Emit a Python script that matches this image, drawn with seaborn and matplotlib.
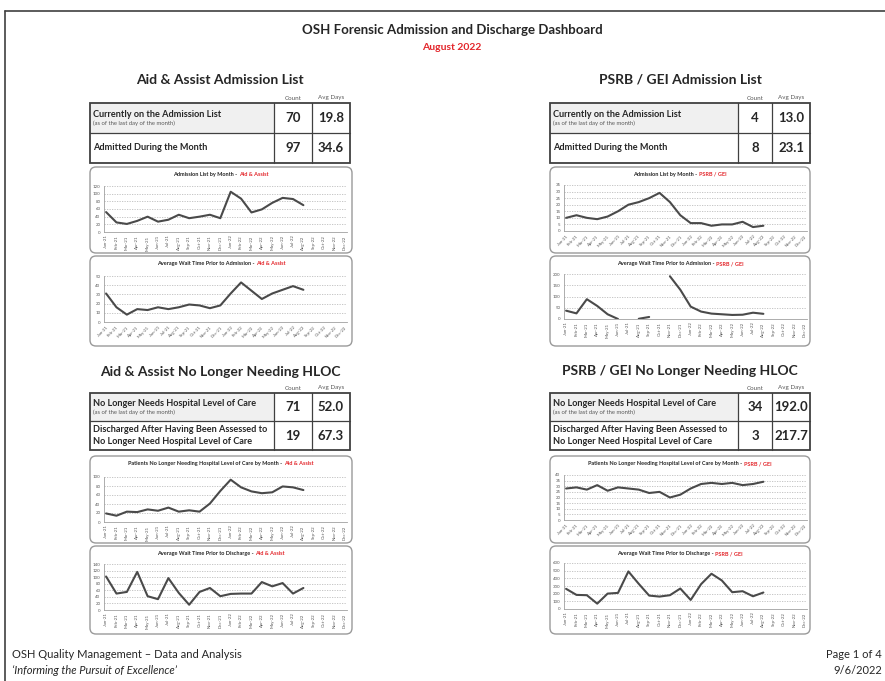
import numpy as np
import pandas as pd
import matplotlib
matplotlib.use("Agg")
import matplotlib.pyplot as plt
import seaborn as sns
from matplotlib.patches import FancyBboxPatch, Rectangle

sns.set_theme(style="white")
plt.rcParams['font.family'] = ['Lato', 'DejaVu Sans']

# ---------------- data ----------------
months = ["Jan-21", "Feb-21", "Mar-21", "Apr-21", "May-21", "Jun-21", "Jul-21", "Aug-21",
          "Sep-21", "Oct-21", "Nov-21", "Dec-21", "Jan-22", "Feb-22", "Mar-22", "Apr-22",
          "May-22", "Jun-22", "Jul-22", "Aug-22", "Sep-22", "Oct-22", "Nov-22", "Dec-22"]

aa_list = [52, 25, 21, 29, 40, 27, 32, 45, 36, 40, 45, 36, 105, 87, 51, 59, 76, 89, 86, 70]
aa_wait_adm = [31, 16, 8, 14, 13, 16, 14, 16, 19, 18, 15, 18, 31, 43, 34, 25, 31, 35, 39, 35]
psrb_list = [10, 12, 10, 9, 11, 15, 20, 22, 25, 29, 22, 12, 6, 6, 4, 5, 5, 7, 3, 4]
psrb_wait_adm = [37, 25, 88, 58, 21, 0, np.nan, 1, 9, np.nan, 190, 130, 55, 33, 24, 21, 18, 19, 28, 23]
aa_hloc = [19, 14, 23, 22, 28, 25, 32, 23, 26, 23, 41, 69, 94, 77, 68, 64, 66, 79, 77, 71]
aa_wait_dis = [102, 50, 55, 116, 42, 33, 97, 52, 16, 55, 67, 42, 49, 50, 50, 85, 72, 82, 50, 67]
psrb_hloc = [28, 29, 27, 31, 26, 29, 28, 27, 24, 25, 20, 22.5, 28, 32, 33, 32, 33, 31, 32, 34]
psrb_wait_dis = [263, 184, 180, 70, 201, 210, 490, 328, 175, 162, 180, 267, 118, 324, 460, 372, 219, 232, 166, 215]

aa_adm_table = [["Currently on the Admission List", "70", "19.8"],
                ["Admitted During the Month", "97", "34.6"]]
psrb_adm_table = [["Currently on the Admission List", "4", "13.0"],
                  ["Admitted During the Month", "8", "23.1"]]
aa_hloc_table = [["No Longer Needs Hospital Level of Care", "71", "52.0"],
                 ["Discharged After Having Been Assessed to\nNo Longer Need Hospital Level of Care", "19", "67.3"]]
psrb_hloc_table = [["No Longer Needs Hospital Level of Care", "34", "192.0"],
                   ["Discharged After Having Been Assessed to\nNo Longer Need Hospital Level of Care", "3", "217.7"]]

W, H = 885, 681
RED = "#e3262b"
DARK = "#262626"
fig = plt.figure(figsize=(W / 100, H / 100), dpi=100)
fig.patch.set_facecolor("white")

bg = fig.add_axes([0, 0, 1, 1])
bg.set_xlim(0, W)
bg.set_ylim(H, 0)
bg.axis("off")
bg.set_zorder(0)

# page border
bg.plot([5, W], [11, 11], color="#404040", lw=1.2)
bg.plot([5, 5], [11, H], color="#404040", lw=1.2)

# header
bg.text(452, 30, "OSH Forensic Admission and Discharge Dashboard", ha="center", va="center",
        fontsize=9.5, fontweight="bold", color=DARK)
bg.text(452, 47, "August 2022", ha="center", va="center", fontsize=7.5, fontweight="bold", color=RED)

# footer
bg.text(12, 655, "OSH Quality Management \u2013 Data and Analysis", ha="left", va="center", fontsize=8, color=DARK)
bg.text(12, 670, "\u2018Informing the Pursuit of Excellence\u2019", ha="left", va="center", fontsize=8,
        style="italic", color=DARK)
bg.text(882, 655, "Page 1 of 4", ha="right", va="center", fontsize=8, color=DARK)
bg.text(882, 670, "9/6/2022", ha="right", va="center", fontsize=8, color=DARK)

# section titles
for x, y, t in [(220, 80, "Aid & Assist Admission List"), (680, 80, "PSRB / GEI Admission List"),
                (220, 372, "Aid & Assist No Longer Needing HLOC"), (680, 371, "PSRB / GEI No Longer Needing HLOC")]:
    bg.text(x, y, t, ha="center", va="center", fontsize=10, fontweight="bold", color=DARK)


def draw_table(rows, x0, x1, d1, d2, y0, ym, y1, sub):
    cy = y0 - 5
    bg.text((d1 + d2) / 2, cy, "Count", ha="center", va="center", fontsize=4.5, color="#595959")
    bg.text((d2 + x1) / 2, cy, "Avg Days", ha="center", va="center", fontsize=4.5, color="#595959")
    bg.add_patch(Rectangle((x0, y0), d1 - x0, ym - y0, facecolor="#f0f0f0", edgecolor="none"))
    bg.add_patch(Rectangle((x0, y0), x1 - x0, y1 - y0, facecolor="none", edgecolor="#404040", lw=1.3))
    bg.plot([x0, x1], [ym, ym], color="#404040", lw=0.9)
    bg.plot([d1, d1], [y0, y1], color="#404040", lw=0.9)
    bg.plot([d2, d2], [y0, y1], color="#404040", lw=0.9)
    for i, (label, cnt, avg) in enumerate(rows):
        ya, yb = (y0, ym) if i == 0 else (ym, y1)
        yc = (ya + yb) / 2
        if i == 0 and sub:
            bg.text(x0 + 3, yc - 3.5, label, ha="left", va="center", fontsize=6.6, fontweight="bold", color=DARK)
            bg.text(x0 + 3, yc + 5, "(as of the last day of the month)", ha="left", va="center",
                    fontsize=4.2, color="#595959")
        else:
            bg.text(x0 + 3, yc, label, ha="left", va="center", fontsize=6.6, fontweight="bold", color=DARK,
                    linespacing=1.4)
        bg.text((d1 + d2) / 2, yc, cnt, ha="center", va="center", fontsize=9.5, fontweight="bold", color=DARK)
        bg.text((d2 + x1) / 2, yc, avg, ha="center", va="center", fontsize=9.5, fontweight="bold", color=DARK)


draw_table(aa_adm_table, 90, 350, 274, 312, 103, 133, 163, True)
draw_table(psrb_adm_table, 550, 810, 738, 772, 103, 133, 163, True)
draw_table(aa_hloc_table, 90, 350, 274, 312, 393, 421, 450, True)
draw_table(psrb_hloc_table, 550, 810, 738, 772, 393, 421, 450, True)

renderer = fig.canvas.get_renderer()


def panel(x0, x1, y0, y1, title, suffix):
    bg.add_patch(FancyBboxPatch((x0, y0), x1 - x0, y1 - y0, boxstyle="round,pad=0,rounding_size=6",
                                facecolor="white", edgecolor="#9a9a9a", lw=1.0))
    xc = (x0 + x1) / 2
    t1 = bg.text(0, 0, title + " -", fontsize=4.0, fontweight="bold", color=DARK, va="baseline")
    t2 = bg.text(0, 0, suffix, fontsize=4.0, fontweight="bold", color=RED, va="baseline")
    w1 = t1.get_window_extent(renderer).width
    w2 = t2.get_window_extent(renderer).width
    gap = 1.5
    left = xc - (w1 + gap + w2) / 2
    t1.set_position((left, y0 + 9))
    t2.set_position((left + w1 + gap, y0 + 9))


def chart(vals, px0, px1, ptop, pbot, ymax, ystep, rot):
    ax = fig.add_axes([px0 / W, 1 - pbot / H, (px1 - px0) / W, (pbot - ptop) / H])
    ax.set_zorder(2)
    ax.patch.set_alpha(0)
    v = np.array(vals, dtype=float)
    seg = np.cumsum(np.isnan(v))
    df = pd.DataFrame({"x": np.arange(len(v)), "y": v, "seg": seg}).dropna()
    sns.lineplot(data=df, x="x", y="y", units="seg", estimator=None, ax=ax,
                 color="#4a4a4a", lw=1.5, legend=False)
    ax.set_xlim(-0.2, 23.2)
    ax.set_ylim(0, ymax)
    yt = np.arange(0, ymax + ystep / 2, ystep)
    ax.set_yticks(yt)
    ax.set_yticklabels([f"{int(t)}" for t in yt], fontsize=3.2, color="#595959")
    ax.set_xticks(np.arange(len(months)))
    if rot == 90:
        ax.set_xticklabels(months, rotation=90, fontsize=3.2, color="#595959", ha="center")
    else:
        ax.set_xticklabels(months, rotation=45, fontsize=3.2, color="#595959", ha="right",
                           rotation_mode="anchor")
    for t in yt[1:]:
        ax.axhline(t, color="#bdbdbd", lw=0.6, ls=(0, (1.5, 1.5)), zorder=0)
    for s in ["top", "right"]:
        ax.spines[s].set_visible(False)
    for s in ["left", "bottom"]:
        ax.spines[s].set_color("#a0a0a0")
        ax.spines[s].set_linewidth(0.6)
    ax.tick_params(axis="both", length=1.5, width=0.4, color="#a0a0a0", pad=1)
    ax.set_xlabel("")
    ax.set_ylabel("")
    return ax


LX0, LX1 = 104, 347
RX0, RX1 = 564, 807

panel(90, 352, 167, 253, "Admission List by Month", "Aid & Assist")
chart(aa_list, LX0, LX1, 186, 232, 120, 20, 90)
panel(90, 352, 256, 346, "Average Wait Time Prior to Admission", "Aid & Assist")
chart(aa_wait_adm, LX0, LX1, 276, 322, 50, 10, 45)

panel(550, 810, 167, 253, "Admission List by Month", "PSRB / GEI")
chart(psrb_list, RX0, RX1, 185, 231, 35, 5, 45)
panel(550, 810, 256, 346, "Average Wait Time Prior to Admission", "PSRB / GEI")
chart(psrb_wait_adm, RX0, RX1, 274, 319, 200, 50, 90)

panel(90, 352, 456, 543, "Patients No Longer Needing Hospital Level of Care by Month", "Aid & Assist")
chart(aa_hloc, LX0, LX1, 477, 522, 100, 20, 90)
panel(90, 352, 546, 634, "Average Wait Time Prior to Discharge", "Aid & Assist")
chart(aa_wait_dis, LX0, LX1, 564, 610, 140, 20, 90)

panel(550, 810, 456, 543, "Patients No Longer Needing Hospital Level of Care by Month", "PSRB / GEI")
chart(psrb_hloc, RX0, RX1, 475, 520, 40, 5, 45)
panel(550, 810, 546, 634, "Average Wait Time Prior to Discharge", "PSRB / GEI")
chart(psrb_wait_dis, RX0, RX1, 563, 609, 600, 100, 90)

fig.savefig("out.png", dpi=100, facecolor="white")
